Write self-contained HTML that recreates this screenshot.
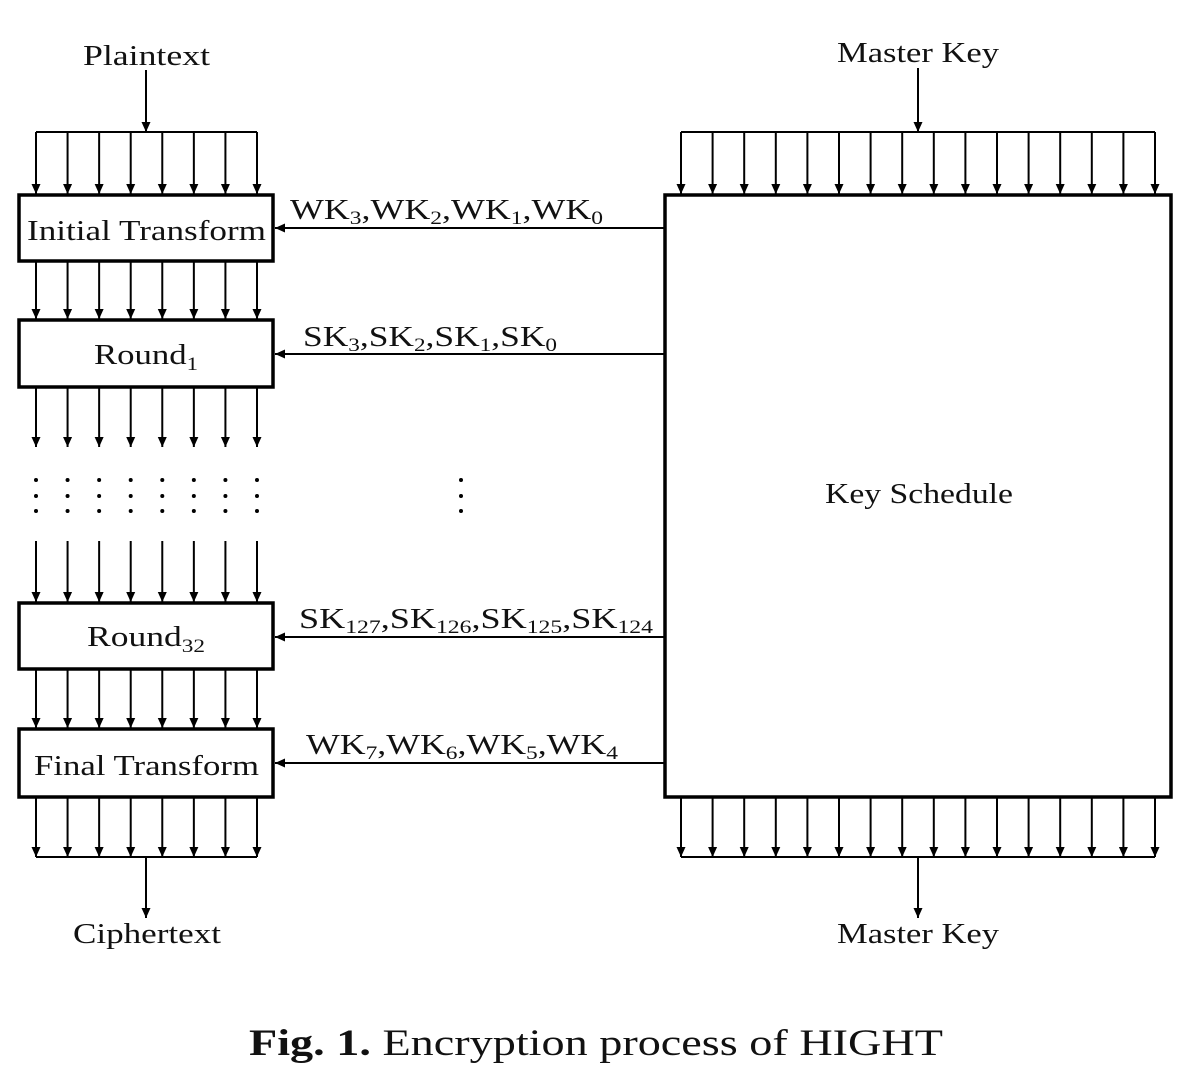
<!DOCTYPE html>
<html><head><meta charset="utf-8"><style>
html,body{margin:0;padding:0;background:#fff;}
svg{display:block}
text{font-family:"Liberation Serif",serif;fill:#111;}
</style></head><body>
<svg id="s" width="1197" height="1069" viewBox="0 0 1197 1069" xmlns="http://www.w3.org/2000/svg">
<defs><marker id="a" markerWidth="12" markerHeight="12" refX="10" refY="5.5" orient="auto" markerUnits="userSpaceOnUse"><path d="M0,1 L10,5.5 L0,10 Z" fill="#000"/></marker></defs>
<g stroke="#000" stroke-width="3.5" fill="none">
<rect x="19" y="195" width="254" height="66"/>
<rect x="19" y="320" width="254" height="67"/>
<rect x="19" y="603" width="254" height="66"/>
<rect x="19" y="729" width="254" height="68"/>
<rect x="665" y="195" width="506" height="602"/>
</g>
<g id="L" stroke="#000" stroke-width="2" fill="none"></g>
<g id="D" fill="#000"></g>
<g font-size="29">
<text x="83" y="65" textLength="127" lengthAdjust="spacingAndGlyphs">Plaintext</text>
<text x="837" y="62" textLength="162" lengthAdjust="spacingAndGlyphs">Master Key</text>
<text x="27" y="240" textLength="239" lengthAdjust="spacingAndGlyphs">Initial Transform</text>
<text x="94" y="364" textLength="104" lengthAdjust="spacingAndGlyphs">Round<tspan font-size="19" dy="6">1</tspan></text>
<text x="87" y="646" textLength="118" lengthAdjust="spacingAndGlyphs">Round<tspan font-size="19" dy="6">32</tspan></text>
<text x="34" y="775" textLength="225" lengthAdjust="spacingAndGlyphs">Final Transform</text>
<text x="825" y="503" textLength="188" lengthAdjust="spacingAndGlyphs">Key Schedule</text>
<text x="73" y="943" textLength="148" lengthAdjust="spacingAndGlyphs">Ciphertext</text>
<text x="837" y="943" textLength="162" lengthAdjust="spacingAndGlyphs">Master Key</text>
<text x="290" y="219" textLength="313" lengthAdjust="spacingAndGlyphs">WK<tspan font-size="19" dy="5">3</tspan><tspan dy="-5">,WK</tspan><tspan font-size="19" dy="5">2</tspan><tspan dy="-5">,WK</tspan><tspan font-size="19" dy="5">1</tspan><tspan dy="-5">,WK</tspan><tspan font-size="19" dy="5">0</tspan></text>
<text x="303" y="346" textLength="254" lengthAdjust="spacingAndGlyphs">SK<tspan font-size="19" dy="5">3</tspan><tspan dy="-5">,SK</tspan><tspan font-size="19" dy="5">2</tspan><tspan dy="-5">,SK</tspan><tspan font-size="19" dy="5">1</tspan><tspan dy="-5">,SK</tspan><tspan font-size="19" dy="5">0</tspan></text>
<text x="299" y="628" textLength="354" lengthAdjust="spacingAndGlyphs">SK<tspan font-size="19" dy="5">127</tspan><tspan dy="-5">,SK</tspan><tspan font-size="19" dy="5">126</tspan><tspan dy="-5">,SK</tspan><tspan font-size="19" dy="5">125</tspan><tspan dy="-5">,SK</tspan><tspan font-size="19" dy="5">124</tspan></text>
<text x="306" y="754" textLength="312" lengthAdjust="spacingAndGlyphs">WK<tspan font-size="19" dy="5">7</tspan><tspan dy="-5">,WK</tspan><tspan font-size="19" dy="5">6</tspan><tspan dy="-5">,WK</tspan><tspan font-size="19" dy="5">5</tspan><tspan dy="-5">,WK</tspan><tspan font-size="19" dy="5">4</tspan></text>
</g>
<text x="249" y="1055" font-size="37" textLength="694" lengthAdjust="spacingAndGlyphs"><tspan font-weight="bold">Fig. 1.</tspan> Encryption process of HIGHT</text>
</svg>
<script>
var L=document.getElementById('L'),D=document.getElementById('D'),ns="http://www.w3.org/2000/svg";
function ln(x1,y1,x2,y2,arr){var e=document.createElementNS(ns,'line');e.setAttribute('x1',x1);e.setAttribute('y1',y1);e.setAttribute('x2',x2);e.setAttribute('y2',y2);if(arr)e.setAttribute('marker-end','url(#a)');L.appendChild(e);}
function dot(x,y){var c=document.createElementNS(ns,'circle');c.setAttribute('cx',x);c.setAttribute('cy',y);c.setAttribute('r',2);D.appendChild(c);}
var lx=[];for(var i=0;i<8;i++)lx.push(36+i*31.57);
var rx=[];for(var i=0;i<16;i++)rx.push(681+i*31.6);
ln(146,70,146,132,1);ln(36,132,257,132);
lx.forEach(function(x){ln(x,132,x,194,1);ln(x,262,x,319,1);ln(x,388,x,447,1);ln(x,541,x,602,1);ln(x,670,x,728,1);ln(x,798,x,857,1);dot(x,480);dot(x,496);dot(x,511);});
ln(36,857,257,857);ln(146,857,146,918,1);
dot(461,480);dot(461,496);dot(461,511);
ln(918,68,918,132,1);ln(681,132,1155,132);
rx.forEach(function(x){ln(x,132,x,194,1);ln(x,798,x,857,1);});
ln(681,857,1155,857);ln(918,857,918,918,1);
[228,354,637,763].forEach(function(y){ln(664,y,275,y,1);});
</script>
</body></html>
